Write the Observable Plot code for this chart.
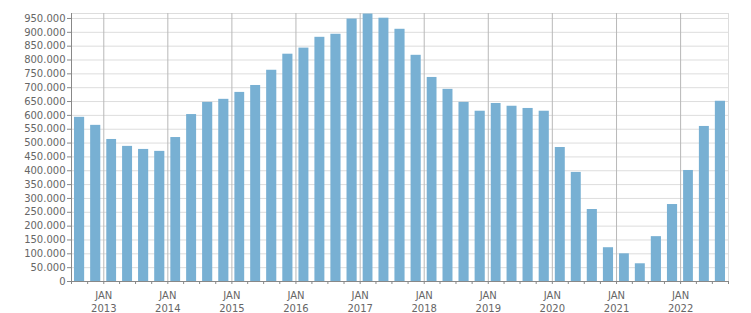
<!DOCTYPE html>
<html>
<head>
<meta charset="utf-8">
<script src="https://cdn.jsdelivr.net/npm/d3@7"></script>
<script src="https://cdn.jsdelivr.net/npm/@observablehq/plot@0.6"></script>
<style>
  html, body { margin: 0; padding: 0; background: #fff; }
  #chart svg { display: block; }
</style>
</head>
<body>
<div id="chart"></div>
<script>
const quarters = [
  "2012 Q3","2012 Q4",
  "2013 Q1","2013 Q2","2013 Q3","2013 Q4",
  "2014 Q1","2014 Q2","2014 Q3","2014 Q4",
  "2015 Q1","2015 Q2","2015 Q3","2015 Q4",
  "2016 Q1","2016 Q2","2016 Q3","2016 Q4",
  "2017 Q1","2017 Q2","2017 Q3","2017 Q4",
  "2018 Q1","2018 Q2","2018 Q3","2018 Q4",
  "2019 Q1","2019 Q2","2019 Q3","2019 Q4",
  "2020 Q1","2020 Q2","2020 Q3","2020 Q4",
  "2021 Q1","2021 Q2","2021 Q3","2021 Q4",
  "2022 Q1","2022 Q2","2022 Q3"
];
const values = [
  593000, 564000,
  513000, 488000, 477000, 470000,
  520000, 603000, 647000, 658000,
  683000, 708000, 763000, 821000,
  843000, 882000, 893000, 948000,
  966000, 951000, 911000, 817000,
  737000, 694000, 647000, 615000,
  643000, 633000, 625000, 615000,
  484000, 394000, 260000, 122000,
  100000, 64000, 162000, 278000,
  401000, 560000, 651000
];
const yTicks = d3.range(0, 950001, 50000);
const monthLabel = "JAN";

const parseQ = s => {
  const [y, q] = s.split(" Q");
  return new Date(Date.UTC(+y, (+q - 1) * 3, 1));
};
const data = quarters.map((q, i) => {
  const start = parseQ(q);
  return {start, end: d3.utcMonth.offset(start, 3), value: values[i]};
});
const xStart = data[0].start;
const xEnd = data[data.length - 1].end;
const yMax = 968000;

const fmt = d => d3.format(",")(d).replace(/,/g, ".");
const years = d3.utcYear.range(d3.utcYear.ceil(xStart), xEnd);
const quarterTicks = d3.utcMonth.every(3).range(xStart, d3.utcDay.offset(xEnd, 1));

const chart = Plot.plot({
  width: 751,
  height: 313,
  marginLeft: 71,
  marginRight: 23,
  marginTop: 13,
  marginBottom: 32,
  style: {fontFamily: "'DejaVu Sans', sans-serif", fontSize: "10px", color: "#666", background: "#fff"},
  x: {type: "utc", domain: [xStart, xEnd]},
  y: {domain: [0, yMax]},
  marks: [
    Plot.gridY(yTicks, {stroke: "#dddddd", strokeOpacity: 1}),
    Plot.ruleY([yMax], {stroke: "#dddddd"}),
    Plot.ruleX([xEnd], {stroke: "#dddddd"}),
    Plot.gridX(years, {stroke: "#b8b8b8", strokeOpacity: 1}),
    Plot.rectY(data, {x1: "start", x2: "end", y: "value", fill: "#78b0d3", insetLeft: 3, insetRight: 3}),
    Plot.axisY(yTicks, {tickSize: 4, tickPadding: 2, tickFormat: fmt, stroke: "#888", fill: "#666", label: null}),
    Plot.ruleX([xStart], {stroke: "#888"}),
    Plot.ruleY([0], {stroke: "#888"}),
    Plot.axisX(quarterTicks, {tickSize: 3, tickFormat: () => "", stroke: "#888", label: null}),
    Plot.axisX(years, {tickSize: 0, tickPadding: 8, lineHeight: 1.3, tickFormat: d => monthLabel + "\n" + d.getUTCFullYear(), fill: "#666", label: null})
  ]
});
document.getElementById("chart").append(chart);
</script>
</body>
</html>
